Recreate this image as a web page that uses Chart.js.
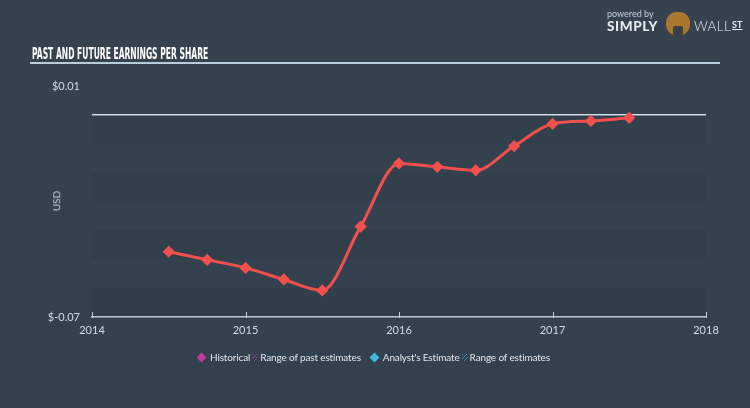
<!DOCTYPE html>
<html>
<head>
<meta charset="utf-8">
<script src="https://cdn.jsdelivr.net/npm/chart.js@4.4.0/dist/chart.umd.min.js"></script>
<style>
    html, body { margin: 0; padding: 0; }
    body {
        width: 750px; height: 408px; overflow: hidden; position: relative;
        background: linear-gradient(#36434f, #33404d);
        font-family: Lato, "Open Sans", sans-serif;
    }
    #chart { position: absolute; left: 0; top: 0; }
    .title {
        position: absolute; left: 32px; top: 45px;
        font-family: "Liberation Sans Narrow", "DejaVu Sans Condensed", sans-serif;
        font-weight: bold; font-size: 15px; color: #ffffff;
        white-space: nowrap; transform-origin: left top;
    }
    .rule { position: absolute; left: 30px; top: 62px; width: 690px; height: 2px; background: #b9cbdc; }
    .usd {
        position: absolute; left: 46px; top: 195px; font-size: 10px; color: #c9d2da;
        transform: rotate(-90deg); transform-origin: center;
    }
    .logo { position: absolute; left: 607px; top: 8px; color: #e6e9ec; }
    .logo .pb { font-size: 9px; color: #c9d0d6; }
    .logo .name { font-size: 13.5px; margin-top: -1px; }
    .logo .simply { font-weight: 900; letter-spacing: 0.6px; }
    .logo .wall { font-weight: 300; letter-spacing: 0.3px; margin-left: 36px; }
    .logo .st { font-weight: bold; font-size: 9px; text-decoration: underline; vertical-align: 3px; margin-left: 1px; }
    .mascot {
        position: absolute; left: 666px; top: 12px; width: 24px; height: 24px; border-radius: 45% 45% 50% 50%;
        background: #a9782e;
    }
    .mascot::after {
        content: ''; position: absolute; left: 7px; top: 14px; width: 10px; height: 10px;
        background: #3a3f46; border-radius: 2px;
    }
    .legend {
        position: absolute; left: 195px; top: 351px; font-size: 10px; color: #e3e7eb;
        white-space: nowrap; display: flex; align-items: center; letter-spacing: -0.15px;
    }
    .legend .dia { display: inline-block; width: 7px; height: 7px; transform: rotate(45deg); margin: 0 5px 0 3px; }
    .legend .hatch { display: inline-block; width: 6px; height: 7px; margin: 0 2px 0 2px; }
</style>
</head>
<body>
<canvas id="chart" width="750" height="408"></canvas>
<div class="title" id="title">PAST AND FUTURE EARNINGS PER SHARE</div>
<div class="rule"></div>
<div class="usd">USD</div>
<div class="mascot"></div>
<div class="logo">
    <div class="pb">powered by</div>
    <div class="name"><span class="simply">SIMPLY</span><span class="wall">WALL</span><span class="st">ST</span></div>
</div>
<div class="legend">
    <span class="dia" style="background:#c2399c"></span>Historical
    <span class="hatch" style="background:repeating-linear-gradient(135deg,#8e3f86 0 1px,transparent 1px 3px)"></span>Range of past estimates
    <span class="dia" style="background:#3fbadb;margin-left:10px"></span>Analyst's Estimate
    <span class="hatch" style="background:repeating-linear-gradient(135deg,#3f8fb0 0 1px,transparent 1px 3px)"></span>Range of estimates
</div>
<script>
// Data
const years = [2014.5, 2014.75, 2015, 2015.25, 2015.5, 2015.75, 2016, 2016.25, 2016.5, 2016.75, 2017, 2017.25, 2017.5];
const eps = [-0.0474, -0.0502, -0.0530, -0.0570, -0.0608, -0.0387, -0.0168, -0.0180, -0.0192, -0.0108, -0.0031, -0.0021, -0.0010];
const yearTicks = [2014, 2015, 2016, 2017, 2018];
const yMin = -0.07;
const yMax = 0.01;

// Fit the condensed title to its width in the picture
const title = document.getElementById('title');
title.style.transform = 'scaleX(' + (176 / title.offsetWidth) + ')';

// Striped bands below zero + little upward ticks on the x axis
const extras = {
    id: 'extras',
    beforeDatasetsDraw(chart) {
        const { ctx, chartArea, scales } = chart;
        const y = scales.y;
        ctx.save();
        for (let v = 0; v > yMin + 0.0001; v -= 0.02) {
            const top = y.getPixelForValue(v);
            const bottom = y.getPixelForValue(v - 0.01);
            ctx.fillStyle = 'rgba(20, 30, 40, 0.06)';
            ctx.fillRect(chartArea.left, top, chartArea.right - chartArea.left, bottom - top);
        }
        ctx.restore();
    },
    afterDraw(chart) {
        const { ctx, chartArea, scales } = chart;
        ctx.save();
        ctx.strokeStyle = '#c3d0db';
        ctx.lineWidth = 1;
        yearTicks.forEach(t => {
            const x = Math.round(scales.x.getPixelForValue(t)) + 0.5;
            ctx.beginPath();
            ctx.moveTo(x, chartArea.bottom + 1);
            ctx.lineTo(x, chartArea.bottom - 5);
            ctx.stroke();
        });
        ctx.restore();
    }
};

const ctx = document.getElementById('chart').getContext('2d');
const chart = new Chart(ctx, {
    type: 'line',
    data: {
        datasets: [{
            data: years.map((yr, i) => ({ x: yr, y: eps[i] })),
            borderColor: '#f2504e',
            backgroundColor: '#f2504e',
            borderWidth: 3,
            cubicInterpolationMode: 'monotone',
            pointStyle: 'rectRot',
            pointRadius: 4,
            pointHoverRadius: 4
        }]
    },
    options: {
        responsive: false,
        animation: false,
        layout: { padding: { left: 0, top: 86, right: 44, bottom: 61 } },
        plugins: { legend: { display: false }, tooltip: { enabled: false } },
        scales: {
            x: {
                type: 'linear',
                min: 2014,
                max: 2018,
                afterBuildTicks: s => { s.ticks = yearTicks.map(v => ({ value: v })); },
                afterFit: s => { s.height = 30; },
                grid: { display: false, drawTicks: false },
                border: { display: true, color: '#c3d0db', width: 1.5 },
                ticks: {
                    color: '#d3dae0',
                    font: { family: 'Lato', size: 11 },
                    padding: 7,
                    callback: v => String(v)
                }
            },
            y: {
                min: yMin,
                max: yMax,
                afterBuildTicks: s => {
                    const t = [];
                    for (let i = 0; i <= 8; i++) t.push({ value: +(yMin + i * 0.01).toFixed(2) });
                    s.ticks = t;
                },
                afterFit: s => { s.width = 92; },
                grid: {
                    drawTicks: false,
                    lineWidth: 1.5,
                    color: c => (Math.abs(c.tick.value) < 1e-9 ? '#d5e0e8' : 'rgba(0,0,0,0)')
                },
                border: { display: false },
                ticks: {
                    color: '#d3dae0',
                    font: { family: 'Lato', size: 11 },
                    padding: 12,
                    autoSkip: false,
                    callback: v => {
                        if (Math.abs(v - yMax) < 1e-9) return '$0.01';
                        if (Math.abs(v - yMin) < 1e-9) return '$-0.07';
                        return '';
                    }
                }
            }
        }
    },
    plugins: [extras]
});
</script>
</body>
</html>
